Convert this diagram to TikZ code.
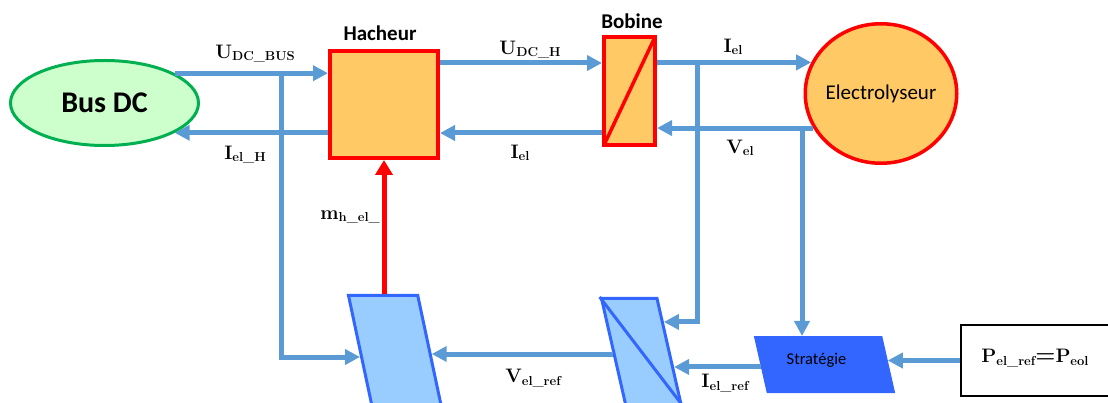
\documentclass[tikz,border=0pt]{standalone}
\usepackage{fontspec}
\newfontfamily\calib{Carlito}
\usepackage{tikz}
\usetikzlibrary{arrows.meta,calc,positioning,shapes.geometric}

\definecolor{linkblue}{HTML}{5B9BD5}
\definecolor{boxorange}{HTML}{FFC966}
\definecolor{busgreen}{HTML}{00B050}
\definecolor{busfill}{HTML}{CCFFCC}
\definecolor{ctrlfill}{HTML}{99CCFF}
\definecolor{ctrlblue}{HTML}{3366FF}

\newcommand{\sig}[2]{\textbf{#1}\raisebox{-0.3ex}{\fontsize{13}{14}\selectfont\bfseries #2}}

\tikzset{
  wire/.style={draw=linkblue, line width=5pt},
  flow/.style={wire, -{Triangle[length=15pt,width=15pt]}},
  cmd/.style={draw=red, line width=5pt, -{Triangle[length=15pt,width=17pt]}},
  powerbox/.style={draw=red, fill=boxorange, line width=4pt, inner sep=0pt},
  ctrlbox/.style={trapezium, trapezium stretches=true, draw=ctrlblue, fill=ctrlfill,
    line width=3pt},
  title/.style={font=\calib\bfseries\fontsize{21}{24}\selectfont},
  sigtxt/.style={font=\fontsize{19.5}{21}\selectfont, inner sep=0pt}
}

\begin{document}
\begin{tikzpicture}[x=1pt,y=-1pt]
  \useasboundingbox (0,0) rectangle (1108,403);
  \clip (0,0) rectangle (1108,403);

  % power chain
  \node[ellipse, draw=busgreen, fill=busfill, line width=3pt, minimum width=188,
    minimum height=85, font=\calib\bfseries\fontsize{30}{32}\selectfont] (bus) at (104.5,103) {Bus DC};
  \node[powerbox, minimum width=108, minimum height=107] (hach) at (384,104.5) {};
  \node[powerbox, minimum width=51, minimum height=108] (bob) at (629.5,91) {};
  \node[ellipse, draw=red, fill=boxorange, line width=3.5pt, inner sep=0pt, minimum width=151.5,
    minimum height=139.5, font=\calib\fontsize{21}{24}\selectfont] (elec) at (881,93.5) {\makebox[0pt]{Electrolyseur}};
  \draw[red, line width=3.5pt] ($(bob.south west)+(2,-2)$) -- ($(bob.north east)+(-2,2)$);
  \node[title] (hachT) at (380,33) {Hacheur};
  \node[title] (bobT) at (632,21) {Bobine};

  % control chain
  \node[ctrlbox, trapezium left angle=102, trapezium right angle=78,
    inner xsep=23.05pt, inner ysep=54.5pt] (p1) at (394.7,350) {};
  \node[ctrlbox, trapezium left angle=102.8, trapezium right angle=77.2,
    inner xsep=15.7pt, inner ysep=53pt] (p2) at (641.3,351.5) {};
  \draw[ctrlblue, line width=3pt] (p2.top left corner) -- (p2.bottom right corner);
  \node[ctrlbox, trapezium left angle=102.8, trapezium right angle=77.2, fill=ctrlblue,
    line width=1pt, inner xsep=57.3pt, inner ysep=20pt, text height=8pt, text depth=8pt,
    font=\calib\fontsize{16.5}{18}\selectfont] (strat) at (824.5,364.5) {\makebox[0pt]{\hspace*{-16pt}Stratégie}};
  \node[draw=black, line width=1.2pt, minimum width=154, minimum height=71] (pref) at (1038,360.5) {};

  % points on the slanted sides
  \coordinate (p1l) at ($(p1.top left corner)!0.5625!(p1.bottom left corner)$);
  \coordinate (p1r) at ($(p1.top right corner)!0.536!(p1.bottom right corner)$);
  \coordinate (p2l) at ($(p2.top left corner)!0.523!(p2.bottom left corner)$);
  \coordinate (p2r) at ($(p2.top right corner)!0.229!(p2.bottom right corner)$);
  \coordinate (p2rr) at ($(p2.top right corner)!0.642!(p2.bottom right corner)$);
  \coordinate (stl) at ($(strat.top left corner)!0.544!(strat.bottom left corner)$);
  \coordinate (str) at ($(strat.top right corner)!0.43!(strat.bottom right corner)$);
  \coordinate (jbus) at (281,73);
  \coordinate (jiel) at (697,63);
  \coordinate (jvel) at (802,128);

  % connectors
  \draw[flow] (bus.23) -- (bus.23 -| hach.west);
  \draw[flow] (hach.west |- bus.-23) -- (bus.-23);
  \draw[flow] (hach.east |- 0,63) -- (bob.west |- 0,63);
  \draw[flow] (bob.west |- 0,133) -- (hach.east |- 0,133);
  \draw[flow] (bob.east |- elec.156.5) -- (elec.156.5);
  \draw[flow] (elec.207) -- (bob.east |- elec.207);
  \draw[flow] (jbus) |- (p1l);
  \draw[flow] (jiel) |- (p2r);
  \draw[flow] (jvel) -- (jvel |- strat.north);
  \draw[flow] (pref.west) -- (pref.west -| str);
  \draw[flow] (p2rr -| stl) -- (p2rr);
  \draw[flow] (p2l) -- (p2l -| p1r);
  \draw[cmd] (p1.top side -| hach.south) -- (hach.south);

  % signal names
  \foreach \n/\p/\t in {udcbus/{255,54}/{\sig{U}{DC\_BUS}},
      ielh/{245,155}/{\sig{I}{el\_H}},
      udch/{530,50}/{\sig{U}{DC\_H}},
      ielb/{520,153}/{\sig{I}{el}},
      ielt/{733,47}/{\sig{I}{el}},
      vel/{740,148}/{\sig{V}{el}},
      mhel/{350,217}/{\sig{m}{h\_el\_}},
      velref/{533,378}/{\sig{V}{el\_ref}},
      ielref/{725,383}/{\sig{I}{el\_ref}}}
    \node[sigtxt] (\n) at (\p) {\t};
  \node[sigtxt] (preftxt) at (1035,358) {\sig{P}{el\_ref}{\fontsize{23}{23}\selectfont\bfseries=}\sig{P}{eol}};
\end{tikzpicture}
\end{document}
